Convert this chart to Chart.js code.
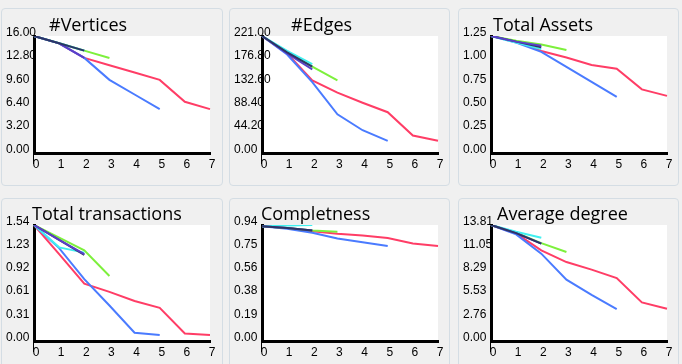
<!DOCTYPE html>
<html>
<head>
<meta charset="utf-8">
<script src="https://cdn.jsdelivr.net/npm/chart.js@4"></script>
<style>
  body { margin: 0; width: 682px; height: 364px; background: #f0f0f0; overflow: hidden; position: relative; }
  .panel { position: absolute; box-sizing: border-box; border: 1px solid #d4dde4; border-radius: 4px; }
  canvas { position: absolute; }
</style>
</head>
<body>
<script>
// x steps shared by all six charts
const xLabels = ['0', '1', '2', '3', '4', '5', '6', '7'];

// series order in every chart: navy, purple, cyan, green, blue, red
const vertices = [
  [16, 15, 14],
  [16, 15, 13],
  [16, 15, 14],
  [16, 15, 14, 13],
  [16, 15, 13, 10, 8, 6],
  [16, 15, 13, 12, 11, 10, 7, 6]
];
const edges = [
  [221, 190, 163],
  [221, 188, 158],
  [221, 193, 168],
  [221, 190, 163, 137],
  [221, 186, 134, 73, 43, 23],
  [221, 188, 137, 114, 95, 77, 33, 23]
];
const totalAssets = [
  [1.25, 1.19, 1.13],
  [1.25, 1.19, 1.145],
  [1.25, 1.18, 1.11],
  [1.25, 1.20, 1.16, 1.10],
  [1.25, 1.18, 1.08, 0.92, 0.76, 0.60],
  [1.25, 1.19, 1.09, 1.02, 0.94, 0.90, 0.68, 0.61]
];
const totalTransactions = [
  [1.536, 1.34, 1.14],
  [1.536, 1.34, 1.15],
  [1.536, 1.24, 1.17],
  [1.536, 1.37, 1.20, 0.86],
  [1.536, 1.23, 0.82, 0.47, 0.11, 0.08],
  [1.536, 1.15, 0.76, 0.65, 0.53, 0.44, 0.10, 0.08]
];
const completness = [
  [0.93, 0.915, 0.895],
  [0.93, 0.915, 0.895],
  [0.93, 0.935, 0.94],
  [0.93, 0.915, 0.895, 0.885],
  [0.93, 0.91, 0.877, 0.83, 0.80, 0.77],
  [0.93, 0.915, 0.89, 0.87, 0.855, 0.835, 0.79, 0.77]
];
const avgDegree = [
  [13.813, 12.85, 11.6],
  [13.813, 12.85, 11.6],
  [13.813, 13.0, 12.3],
  [13.813, 12.9, 11.65, 10.6],
  [13.813, 12.7, 10.4, 7.3, 5.5, 3.8],
  [13.813, 12.8, 10.8, 9.4, 8.5, 7.5, 4.6, 3.85]
];

const titles = ['#Vertices', '#Edges', 'Total Assets', 'Total transactions', 'Completness', 'Average degree'];
const yMax = [16, 221, 1.25, 1.536, 0.94, 13.813];
const allData = [vertices, edges, totalAssets, totalTransactions, completness, avgDegree];

const lineColors = ['#2b3566', '#5b3fc8', '#40f0f0', '#7df03c', '#4a7bff', '#ff3d66'];

// panel boxes in page pixels, title x shift from the plot's left edge
const panels = [
  { left: 1,   top: 8,   w: 222, h: 178, plotTop: 28, plotH: 117, titleDx: 15, purpleOnTop: false },
  { left: 229, top: 8,   w: 221, h: 178, plotTop: 28, plotH: 117, titleDx: 29, purpleOnTop: false },
  { left: 458, top: 8,   w: 221, h: 178, plotTop: 28, plotH: 117, titleDx: 2,  purpleOnTop: true },
  { left: 1,   top: 198, w: 222, h: 166, plotTop: 27, plotH: 116, titleDx: -2, purpleOnTop: true },
  { left: 229, top: 198, w: 221, h: 166, plotTop: 27, plotH: 116, titleDx: -1, purpleOnTop: false },
  { left: 458, top: 198, w: 221, h: 166, plotTop: 27, plotH: 116, titleDx: 6,  purpleOnTop: false }
];

const PLOT_W = 176;
const LABEL_PAD = 5;
const Y_AXIS_W = 28;

const panelDecor = {
  id: 'panelDecor',
  beforeDraw(chart) {
    const a = chart.chartArea;
    const ctx = chart.ctx;
    ctx.save();
    ctx.fillStyle = '#fff';
    ctx.fillRect(a.left, a.top, a.right - a.left, a.bottom - a.top);
    ctx.restore();
  },
  afterDraw(chart, args, opts) {
    const a = chart.chartArea;
    const ctx = chart.ctx;
    ctx.save();
    ctx.fillStyle = '#000';
    ctx.fillRect(Math.round(a.left) - 1, a.bottom, 1, 11);
    ctx.font = '18px "Open Sans"';
    ctx.textBaseline = 'alphabetic';
    ctx.textAlign = 'left';
    ctx.fillText(opts.text, a.left + opts.dx, a.top - 5);
    ctx.restore();
  }
};

const tickFont = { family: '"Liberation Sans", Arial, sans-serif', size: 12 };

panels.forEach((p, i) => {
  const box = document.createElement('div');
  box.className = 'panel';
  box.style.left = p.left + 'px';
  box.style.top = p.top + 'px';
  box.style.width = p.w + 'px';
  box.style.height = (i < 3 ? p.h : p.h + 10) + 'px';
  document.body.appendChild(box);

  const canvas = document.createElement('canvas');
  canvas.width = p.w;
  canvas.height = p.h;
  canvas.style.left = p.left + 'px';
  canvas.style.top = p.top + 'px';
  document.body.appendChild(canvas);

  const max = yMax[i];
  const xAxisH = p.h - p.plotTop - p.plotH;

  new Chart(canvas, {
    type: 'line',
    data: {
      labels: xLabels,
      datasets: allData[i].map((vals, k) => ({
        data: vals,
        borderColor: lineColors[k],
        borderWidth: 2,
        pointRadius: 0,
        tension: 0,
        fill: false,
        order: (p.purpleOnTop && k === 1) ? -1 : k
      }))
    },
    options: {
      responsive: false,
      animation: false,
      events: [],
      layout: {
        padding: { left: LABEL_PAD, top: p.plotTop, right: p.w - LABEL_PAD - Y_AXIS_W - PLOT_W, bottom: 0 }
      },
      plugins: {
        legend: { display: false },
        tooltip: { enabled: false },
        panelDecor: { text: titles[i], dx: p.titleDx }
      },
      scales: {
        x: {
          grid: { display: false, drawTicks: false },
          border: { display: true, color: '#000', width: 3 },
          ticks: {
            color: '#000', font: tickFont, padding: 4, labelOffset: 2,
            autoSkip: false, maxRotation: 0
          },
          afterFit: s => { s.height = xAxisH; }
        },
        y: {
          min: 0,
          max: max,
          grid: { display: false, drawTicks: false },
          border: { display: true, color: '#000', width: 3 },
          ticks: {
            color: '#000', font: tickFont, labelOffset: -3.5,
            mirror: true, crossAlign: 'near', padding: -Y_AXIS_W,
            callback: v => Number(v).toFixed(2)
          },
          afterBuildTicks: s => {
            s.ticks = [0, 1, 2, 3, 4, 5].map(n => ({ value: max * n / 5 }));
          },
          afterFit: s => { s.width = Y_AXIS_W; }
        }
      }
    },
    plugins: [panelDecor]
  });
});
</script>
</body>
</html>
